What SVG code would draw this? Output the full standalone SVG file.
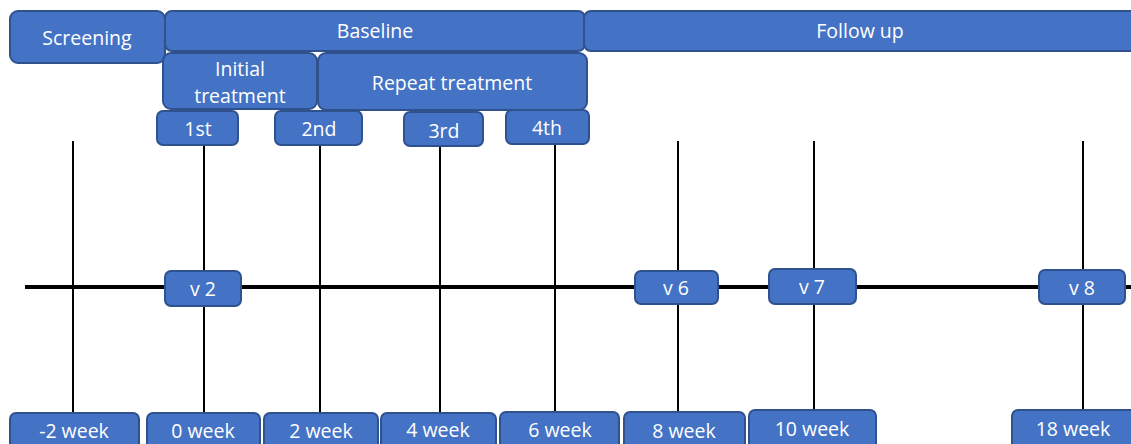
<svg xmlns="http://www.w3.org/2000/svg" width="1131" height="444" viewBox="0 0 1131 444">
<style>
.b{fill:#4472C4;stroke:#2F528F;stroke-width:2}
.t{fill:#ffffff;font-family:"Open Sans","Liberation Sans",sans-serif;font-size:19.5px;text-anchor:middle}
.v{stroke:#000;stroke-width:2;fill:none}
.h{stroke:#000;stroke-width:4;fill:none}
</style>
<rect width="1131" height="444" fill="#ffffff"/>
<g id="connectors">
<line class="h" x1="25" y1="287" x2="1131" y2="287"/>
<line class="v" x1="73" y1="141" x2="73" y2="414"/>
<line class="v" x1="204" y1="145" x2="204" y2="414"/>
<line class="v" x1="320" y1="145" x2="320" y2="414"/>
<line class="v" x1="440" y1="146" x2="440" y2="414"/>
<line class="v" x1="555" y1="144" x2="555" y2="414"/>
<line class="v" x1="678" y1="141" x2="678" y2="412"/>
<line class="v" x1="814" y1="141" x2="814" y2="410"/>
<line class="v" x1="1083" y1="141" x2="1083" y2="410"/>
</g>
<g id="screening"><rect class="b" x="10" y="11" width="155" height="52" rx="8"/><text class="t" x="87" y="45">Screening</text></g>
<g id="baseline"><rect class="b" x="165" y="11" width="420" height="40" rx="7"/><text class="t" x="375" y="38">Baseline</text></g>
<g id="followup"><rect class="b" x="584" y="11" width="560" height="40" rx="7"/><text class="t" x="860" y="38">Follow up</text></g>
<g id="initial"><rect class="b" x="163" y="53" width="154" height="56" rx="8"/><text class="t" x="240" y="76">Initial</text><text class="t" x="240" y="103">treatment</text></g>
<g id="repeat"><rect class="b" x="318" y="53" width="269" height="57" rx="8"/><text class="t" x="452" y="90">Repeat treatment</text></g>
<g id="n1st"><rect class="b" x="157" y="111" width="81" height="34" rx="6"/><text class="t" x="198" y="136">1st</text></g>
<g id="n2nd"><rect class="b" x="275" y="111" width="87" height="34" rx="6"/><text class="t" x="319" y="136">2nd</text></g>
<g id="n3rd"><rect class="b" x="404" y="112" width="79" height="34" rx="6"/><text class="t" x="444" y="138">3rd</text></g>
<g id="n4th"><rect class="b" x="506" y="110" width="83" height="34" rx="6"/><text class="t" x="547" y="135">4th</text></g>
<g id="v2"><rect class="b" x="165" y="271" width="76" height="35" rx="6"/><text class="t" x="203" y="296">v 2</text></g>
<g id="v6"><rect class="b" x="635" y="271" width="83" height="33" rx="6"/><text class="t" x="676" y="295">v 6</text></g>
<g id="v7"><rect class="b" x="769" y="269" width="87" height="35" rx="6"/><text class="t" x="812" y="294">v 7</text></g>
<g id="v8"><rect class="b" x="1039" y="270" width="86" height="34" rx="6"/><text class="t" x="1082" y="295">v 8</text></g>
<g id="wm2"><rect class="b" x="10" y="413" width="129" height="40" rx="6"/><text class="t" x="74" y="438">-2 week</text></g>
<g id="w0"><rect class="b" x="147" y="413" width="113" height="40" rx="6"/><text class="t" x="203" y="438">0 week</text></g>
<g id="w2"><rect class="b" x="264" y="413" width="114" height="40" rx="6"/><text class="t" x="321" y="438">2 week</text></g>
<g id="w4"><rect class="b" x="381" y="413" width="115" height="40" rx="6"/><text class="t" x="438" y="437">4 week</text></g>
<g id="w6"><rect class="b" x="500" y="412" width="119" height="40" rx="6"/><text class="t" x="560" y="437">6 week</text></g>
<g id="w8"><rect class="b" x="624" y="412" width="121" height="40" rx="6"/><text class="t" x="684" y="438">8 week</text></g>
<g id="w10"><rect class="b" x="749" y="410" width="127" height="42" rx="6"/><text class="t" x="812" y="436">10 week</text></g>
<g id="w18"><rect class="b" x="1012" y="410" width="125" height="42" rx="6"/><text class="t" x="1073" y="436">18 week</text></g>
</svg>
